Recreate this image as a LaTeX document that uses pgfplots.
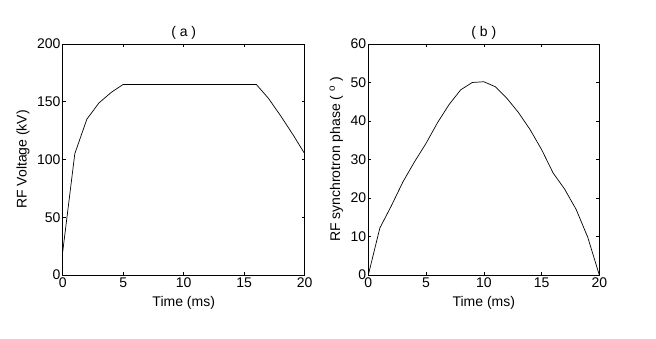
\documentclass[border=0pt]{standalone}
\usepackage{fontspec}
\setmainfont{Liberation Sans}
\usepackage{pgfplots}
\pgfplotsset{compat=1.18}

\pgfplotstableread{
t V
0 20
1 105
2 135
3 149
4 158
5 165
16 165
17 153
18 138
19 122
20 105
}\voltage

\pgfplotstableread{
t phi
0 0
1 12.2
2 18
3 24.2
4 29.4
5 34.2
6 39.6
7 44.3
8 48.1
9 50
10 50.2
11 48.9
12 45.9
13 42.2
14 37.8
15 32.6
16 26.5
17 22.3
18 17
19 9.8
20 0
}\phase

\pgfplotsset{
  matlab/.style={
    scale only axis,
    width=242pt, height=231pt,
    anchor=south west,
    xmin=0, xmax=20,
    xtick={0,5,10,15,20},
    tick align=inside,
    major tick length=3pt,
    every tick/.style={black, line width=0.5pt},
    axis line style={line width=0.7pt},
    /pgf/number format/assume math mode=true,
    tick label style={font=\fontsize{14}{16}\selectfont},
    label style={font=\fontsize{14}{16}\selectfont},
    title style={font=\fontsize{14}{16}\selectfont, yshift=-5pt},
    xticklabel style={inner sep=2pt, yshift=-1pt},
    yticklabel style={inner sep=2pt},
    xlabel style={yshift=-3pt},
    ylabel style={yshift=2pt},
    xlabel={Time (ms)},
  }
}

\begin{document}
\begin{tikzpicture}[x=1pt,y=1pt]
\path (0,0) rectangle (656,339);
\begin{axis}[matlab,
  at={(62.7pt,64pt)},
  ymin=0, ymax=200,
  ytick={0,50,100,150,200},
  title={( a )},
  ylabel={RF Voltage (kV)},
]
\addplot[black, line width=0.7pt] table[x=t,y=V] {\voltage};
\end{axis}
\begin{axis}[matlab,
  at={(368.3pt,64pt)},
  width=231pt,
  ymin=0, ymax=60,
  ytick={0,10,20,30,40,50,60},
  title={( b )},
  ylabel={RF synchrotron phase ( $^{\mathrm{o}}$ )},
]
\addplot[black, line width=0.7pt] table[x=t,y=phi] {\phase};
\end{axis}
\end{tikzpicture}
\end{document}
